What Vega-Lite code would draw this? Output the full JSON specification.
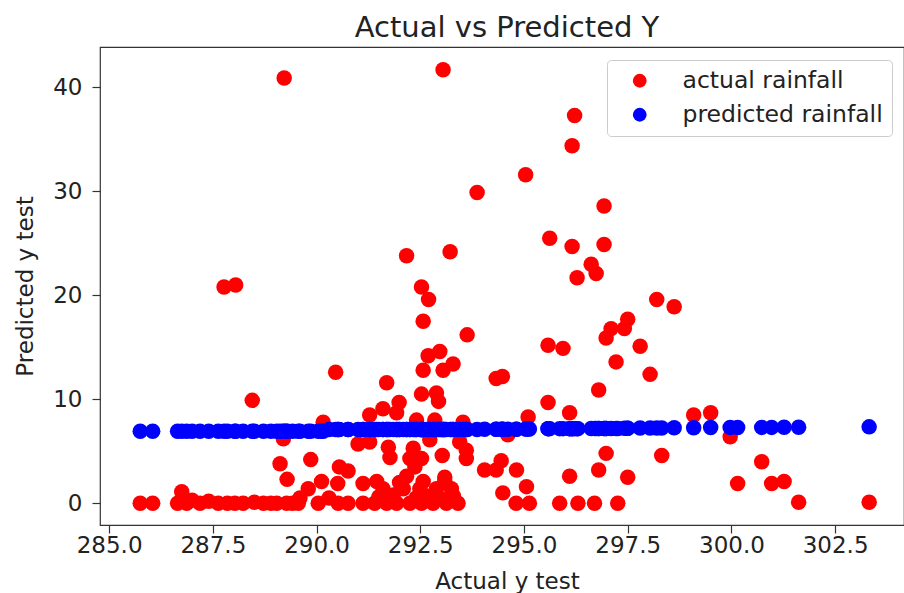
{
  "$schema": "https://vega.github.io/schema/vega-lite/v6.json",
  "autosize": {"type": "none"},
  "padding": {"left": 100, "top": 47, "right": 0, "bottom": 68},
  "width": 804,
  "height": 478,
  "background": "white",
  "config": {
    "font": "DejaVu Sans",
    "view": {"stroke": "#333333", "strokeWidth": 1.2},
    "axis": {"grid": false, "domain": false, "tickColor": "#333333", "tickWidth": 1.2, "tickSize": 8,
             "labelFont": "DejaVu Sans", "labelFontSize": 23, "labelColor": "#222222",
             "titleFont": "DejaVu Sans", "titleFontSize": 23, "titleFontWeight": "normal", "titleColor": "#222222"}
  },
  "title": {"text": "Actual vs Predicted Y", "fontSize": 29, "fontWeight": "normal", "font": "DejaVu Sans", "color": "#222222", "dx": 5, "offset": 4},
  "datasets": {
    "d": [
      {"temp": 285.75, "actual": 0, "predicted": 6.92},
      {"temp": 286.05, "actual": 0, "predicted": 6.92},
      {"temp": 286.65, "actual": 0, "predicted": 6.92},
      {"temp": 286.75, "actual": 1.1, "predicted": 6.92},
      {"temp": 286.87, "actual": 0, "predicted": 6.92},
      {"temp": 287.0, "actual": 0.3, "predicted": 6.92},
      {"temp": 287.19, "actual": 0, "predicted": 6.92},
      {"temp": 287.4, "actual": 0.2, "predicted": 6.92},
      {"temp": 287.63, "actual": 0, "predicted": 6.92},
      {"temp": 287.77, "actual": 20.8, "predicted": 6.92},
      {"temp": 287.85, "actual": 0, "predicted": 6.92},
      {"temp": 288.05, "actual": 21.0, "predicted": 6.92},
      {"temp": 288.03, "actual": 0, "predicted": 6.92},
      {"temp": 288.23, "actual": 0, "predicted": 6.92},
      {"temp": 288.45, "actual": 9.9, "predicted": 6.92},
      {"temp": 288.5, "actual": 0.1, "predicted": 6.92},
      {"temp": 288.72, "actual": 0, "predicted": 6.92},
      {"temp": 288.9, "actual": 0, "predicted": 6.92},
      {"temp": 289.04, "actual": 0, "predicted": 6.92},
      {"temp": 289.12, "actual": 3.8, "predicted": 6.92},
      {"temp": 289.2, "actual": 6.2, "predicted": 6.92},
      {"temp": 289.22, "actual": 40.9, "predicted": 6.92},
      {"temp": 289.28, "actual": 0, "predicted": 6.92},
      {"temp": 289.29, "actual": 2.3, "predicted": 6.92},
      {"temp": 289.42, "actual": 0, "predicted": 6.92},
      {"temp": 289.56, "actual": 0, "predicted": 6.92},
      {"temp": 289.6, "actual": 0.5, "predicted": 6.92},
      {"temp": 289.8, "actual": 1.4, "predicted": 6.92},
      {"temp": 289.86, "actual": 4.2, "predicted": 6.92},
      {"temp": 290.04, "actual": 0, "predicted": 6.92},
      {"temp": 290.12, "actual": 2.1, "predicted": 6.92},
      {"temp": 290.16, "actual": 7.8, "predicted": 6.92},
      {"temp": 290.3, "actual": 0.5, "predicted": 7.1},
      {"temp": 290.46, "actual": 12.6, "predicted": 7.1},
      {"temp": 290.51, "actual": 1.9, "predicted": 7.1},
      {"temp": 290.52, "actual": 0, "predicted": 7.1},
      {"temp": 290.55, "actual": 3.5, "predicted": 7.1},
      {"temp": 290.76, "actual": 3.1, "predicted": 7.1},
      {"temp": 290.76, "actual": 0, "predicted": 7.1},
      {"temp": 291.0, "actual": 5.7, "predicted": 7.1},
      {"temp": 291.12, "actual": 1.9, "predicted": 7.1},
      {"temp": 291.12, "actual": 0, "predicted": 7.1},
      {"temp": 291.28, "actual": 8.5, "predicted": 7.1},
      {"temp": 291.28, "actual": 5.9, "predicted": 7.1},
      {"temp": 291.4, "actual": 0, "predicted": 7.1},
      {"temp": 291.45, "actual": 2.1, "predicted": 7.1},
      {"temp": 291.5, "actual": 0.6, "predicted": 7.1},
      {"temp": 291.6, "actual": 1.4, "predicted": 7.1},
      {"temp": 291.6, "actual": 9.1, "predicted": 7.1},
      {"temp": 291.69, "actual": 0, "predicted": 7.1},
      {"temp": 291.69, "actual": 11.6, "predicted": 7.1},
      {"temp": 291.73, "actual": 5.4, "predicted": 7.1},
      {"temp": 291.77, "actual": 4.4, "predicted": 7.1},
      {"temp": 291.85, "actual": 0.8, "predicted": 7.1},
      {"temp": 291.93, "actual": 8.7, "predicted": 7.1},
      {"temp": 291.93, "actual": 0, "predicted": 7.1},
      {"temp": 291.99, "actual": 9.7, "predicted": 7.1},
      {"temp": 292.0, "actual": 2.0, "predicted": 7.1},
      {"temp": 292.09, "actual": 1.4, "predicted": 7.1},
      {"temp": 292.17, "actual": 23.8, "predicted": 7.1},
      {"temp": 292.17, "actual": 2.6, "predicted": 7.1},
      {"temp": 292.25, "actual": 0, "predicted": 7.1},
      {"temp": 292.25, "actual": 4.3, "predicted": 7.1},
      {"temp": 292.33, "actual": 5.3, "predicted": 7.1},
      {"temp": 292.37, "actual": 3.5, "predicted": 7.1},
      {"temp": 292.4, "actual": 0.5, "predicted": 7.1},
      {"temp": 292.41, "actual": 8.0, "predicted": 7.1},
      {"temp": 292.49, "actual": 1.4, "predicted": 7.1},
      {"temp": 292.53, "actual": 0, "predicted": 7.1},
      {"temp": 292.53, "actual": 4.3, "predicted": 7.1},
      {"temp": 292.53, "actual": 10.5, "predicted": 7.1},
      {"temp": 292.53, "actual": 20.8, "predicted": 7.1},
      {"temp": 292.57, "actual": 2.1, "predicted": 7.1},
      {"temp": 292.57, "actual": 12.8, "predicted": 7.1},
      {"temp": 292.57, "actual": 17.5, "predicted": 7.1},
      {"temp": 292.65, "actual": 0.7, "predicted": 7.1},
      {"temp": 292.69, "actual": 14.2, "predicted": 7.1},
      {"temp": 292.7, "actual": 19.6, "predicted": 7.1},
      {"temp": 292.73, "actual": 6.1, "predicted": 7.1},
      {"temp": 292.81, "actual": 0, "predicted": 7.1},
      {"temp": 292.85, "actual": 8.0, "predicted": 7.1},
      {"temp": 292.89, "actual": 1.4, "predicted": 7.1},
      {"temp": 292.89, "actual": 10.6, "predicted": 7.1},
      {"temp": 292.94, "actual": 9.8, "predicted": 7.1},
      {"temp": 292.97, "actual": 14.6, "predicted": 7.1},
      {"temp": 293.0, "actual": 0.4, "predicted": 7.1},
      {"temp": 293.03, "actual": 4.6, "predicted": 7.1},
      {"temp": 293.05, "actual": 12.8, "predicted": 7.1},
      {"temp": 293.05, "actual": 41.7, "predicted": 7.1},
      {"temp": 293.09, "actual": 2.5, "predicted": 7.1},
      {"temp": 293.09, "actual": 2.1, "predicted": 7.1},
      {"temp": 293.13, "actual": 0, "predicted": 7.1},
      {"temp": 293.22, "actual": 24.2, "predicted": 7.1},
      {"temp": 293.25, "actual": 1.4, "predicted": 7.1},
      {"temp": 293.29, "actual": 13.4, "predicted": 7.1},
      {"temp": 293.3, "actual": 0.7, "predicted": 7.1},
      {"temp": 293.41, "actual": 0, "predicted": 7.1},
      {"temp": 293.45, "actual": 5.9, "predicted": 7.1},
      {"temp": 293.53, "actual": 7.8, "predicted": 7.1},
      {"temp": 293.61, "actual": 5.1, "predicted": 7.1},
      {"temp": 293.61, "actual": 4.3, "predicted": 7.1},
      {"temp": 293.63, "actual": 16.2, "predicted": 7.1},
      {"temp": 293.87, "actual": 29.9, "predicted": 7.1},
      {"temp": 294.05, "actual": 3.2, "predicted": 7.12},
      {"temp": 294.33, "actual": 3.2, "predicted": 7.12},
      {"temp": 294.33, "actual": 12.0, "predicted": 7.12},
      {"temp": 294.45, "actual": 4.1, "predicted": 7.12},
      {"temp": 294.48, "actual": 12.2, "predicted": 7.12},
      {"temp": 294.49, "actual": 1.0, "predicted": 7.12},
      {"temp": 294.61, "actual": 6.6, "predicted": 7.12},
      {"temp": 294.81, "actual": 0, "predicted": 7.12},
      {"temp": 294.82, "actual": 3.2, "predicted": 7.12},
      {"temp": 295.04, "actual": 31.6, "predicted": 7.15},
      {"temp": 295.06, "actual": 1.6, "predicted": 7.15},
      {"temp": 295.1, "actual": 8.3, "predicted": 7.15},
      {"temp": 295.13, "actual": 0, "predicted": 7.15},
      {"temp": 295.58, "actual": 9.7, "predicted": 7.18},
      {"temp": 295.58, "actual": 15.2, "predicted": 7.18},
      {"temp": 295.62, "actual": 25.5, "predicted": 7.18},
      {"temp": 295.86, "actual": 0, "predicted": 7.18},
      {"temp": 295.94, "actual": 14.9, "predicted": 7.18},
      {"temp": 296.1, "actual": 8.7, "predicted": 7.18},
      {"temp": 296.1, "actual": 2.6, "predicted": 7.18},
      {"temp": 296.16, "actual": 34.4, "predicted": 7.18},
      {"temp": 296.16, "actual": 24.7, "predicted": 7.18},
      {"temp": 296.22, "actual": 37.3, "predicted": 7.18},
      {"temp": 296.28, "actual": 21.7, "predicted": 7.18},
      {"temp": 296.3, "actual": 0, "predicted": 7.18},
      {"temp": 296.62, "actual": 23.0, "predicted": 7.2},
      {"temp": 296.7, "actual": 0, "predicted": 7.2},
      {"temp": 296.74, "actual": 22.1, "predicted": 7.2},
      {"temp": 296.8, "actual": 10.9, "predicted": 7.2},
      {"temp": 296.8, "actual": 3.2, "predicted": 7.2},
      {"temp": 296.93, "actual": 28.6, "predicted": 7.2},
      {"temp": 296.93, "actual": 24.9, "predicted": 7.2},
      {"temp": 296.98, "actual": 15.9, "predicted": 7.2},
      {"temp": 296.98, "actual": 4.8, "predicted": 7.2},
      {"temp": 297.1, "actual": 16.8, "predicted": 7.2},
      {"temp": 297.22, "actual": 13.6, "predicted": 7.2},
      {"temp": 297.26, "actual": 0, "predicted": 7.2},
      {"temp": 297.42, "actual": 16.8, "predicted": 7.22},
      {"temp": 297.5, "actual": 17.7, "predicted": 7.22},
      {"temp": 297.5, "actual": 2.5, "predicted": 7.22},
      {"temp": 297.8, "actual": 15.1, "predicted": 7.24},
      {"temp": 298.04, "actual": 12.4, "predicted": 7.25},
      {"temp": 298.2, "actual": 19.6, "predicted": 7.25},
      {"temp": 298.32, "actual": 4.6, "predicted": 7.25},
      {"temp": 298.62, "actual": 18.9, "predicted": 7.26},
      {"temp": 299.09, "actual": 8.5, "predicted": 7.27},
      {"temp": 299.5, "actual": 8.7, "predicted": 7.28},
      {"temp": 299.97, "actual": 6.4, "predicted": 7.28},
      {"temp": 300.15, "actual": 1.9, "predicted": 7.29},
      {"temp": 300.73, "actual": 4.0, "predicted": 7.3},
      {"temp": 300.97, "actual": 1.9, "predicted": 7.3},
      {"temp": 301.27, "actual": 2.1, "predicted": 7.31},
      {"temp": 301.62, "actual": 0.1, "predicted": 7.31},
      {"temp": 303.32, "actual": 0.1, "predicted": 7.35}
    ]
  },
  "data": {"name": "d"},
  "layer": [
    {
      "mark": {"type": "point", "filled": true, "opacity": 1, "size": 240, "strokeWidth": 0},
      "encoding": {
        "x": {"field": "temp", "type": "quantitative", "title": "Actual y test",
              "scale": {"domain": [284.78, 304.16], "nice": false, "zero": false},
              "axis": {"values": [285, 287.5, 290, 292.5, 295, 297.5, 300, 302.5], "format": ".1f", "labelPadding": 1, "titlePadding": 13, "titleX": 407}},
        "y": {"field": "actual", "type": "quantitative", "title": "Predicted y test",
              "scale": {"domain": [-2.09, 43.89], "nice": false, "zero": false},
              "axis": {"values": [0, 10, 20, 30, 40], "format": "d", "labelPadding": 10, "titlePadding": 15}},
        "color": {"datum": "actual rainfall", "type": "nominal",
                  "scale": {"domain": ["actual rainfall", "predicted rainfall"], "range": ["#ff0000", "#0000ff"]},
                  "legend": {"title": null, "orient": "none", "legendX": 507, "legendY": 13,
                             "padding": 9, "symbolOffset": 12, "labelOffset": 31, "rowPadding": 9, "labelLimit": 500,
                             "labelFontSize": 23.5, "labelFont": "DejaVu Sans", "labelColor": "#222222",
                             "symbolType": "circle", "symbolSize": 190, "symbolStrokeWidth": 0, "symbolOpacity": 1,
                             "strokeColor": "#cccccc", "fillColor": "rgba(255,255,255,0.8)", "cornerRadius": 4}}
      }
    },
    {
      "mark": {"type": "point", "filled": true, "opacity": 1, "size": 240, "strokeWidth": 0},
      "encoding": {
        "x": {"field": "temp", "type": "quantitative", "title": "Actual y test"},
        "y": {"field": "predicted", "type": "quantitative", "title": "Predicted y test"},
        "color": {"datum": "predicted rainfall", "type": "nominal"}
      }
    }
  ]
}
